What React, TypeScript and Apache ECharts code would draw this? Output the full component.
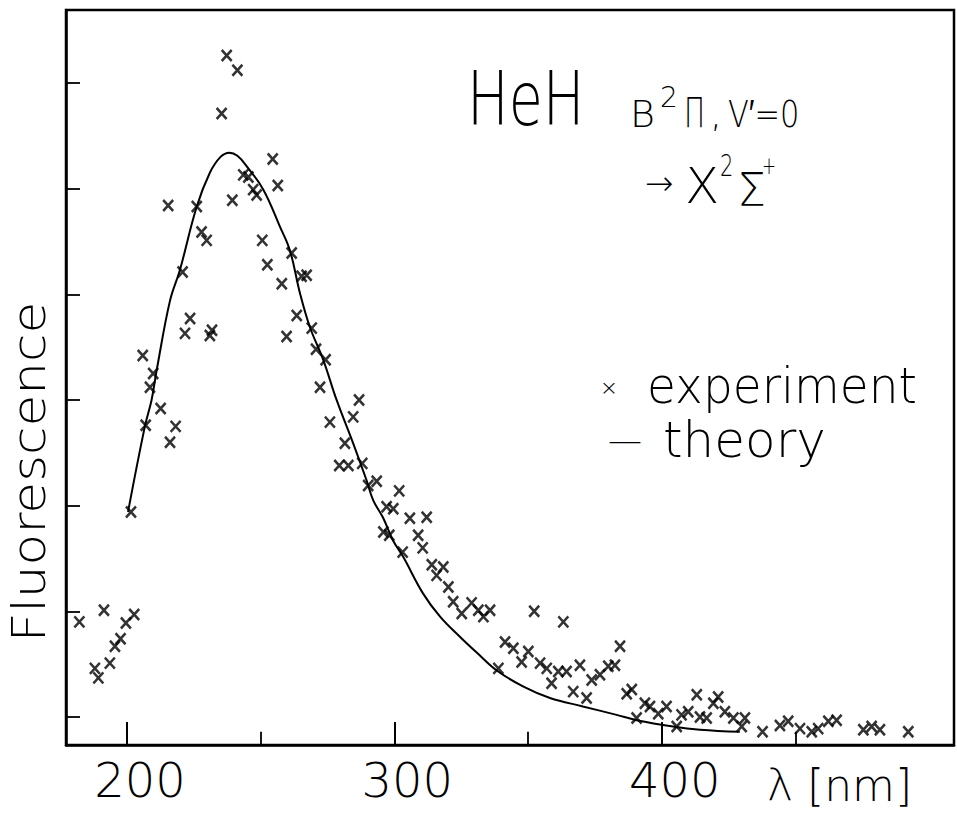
import React, { useEffect, useRef } from "react";
import * as echarts from "echarts";

// ---- axis ranges / ticks ----
const X_MIN = 177.2;
const X_MAX = 509.3;
const Y_MIN = 0.735;
const Y_MAX = 7.69;
const xMajorTicks = [200, 300, 400];
const xMinorTicks = [250, 350, 450];
const xLabelValues = [200, 300, 400];
const yTicks = [1, 2, 3, 4, 5, 6, 7];

// ---- experiment (λ [nm], fluorescence, arbitrary units) ----
const experimentData: number[][] = [
  [182.2, 1.9], [191.4, 2.01], [188.0, 1.46], [189.3, 1.37], [193.6, 1.51], [195.5, 1.67], [197.6, 1.74], [199.6, 1.89], [202.7, 1.97],
  [201.5, 2.94], [207.0, 3.76], [212.6, 3.92], [218.2, 3.75], [216.1, 3.6],
  [215.4, 5.84], [226.1, 5.83], [227.9, 5.59], [229.8, 5.51], [220.8, 5.21], [223.6, 4.77], [221.7, 4.63], [205.9, 4.42], [209.8, 4.25], [208.6, 4.12],
  [237.3, 7.26], [241.3, 7.12], [235.4, 6.71], [254.5, 6.28], [243.5, 6.13], [245.4, 6.11], [256.4, 6.03], [247.2, 5.99], [248.5, 5.94], [239.4, 5.89],
  [250.6, 5.51], [261.6, 5.39], [252.5, 5.28], [257.9, 5.1], [265.3, 5.17], [267.2, 5.18], [263.5, 4.8], [269.1, 4.68], [231.0, 4.61], [231.8, 4.66],
  [259.7, 4.6], [270.7, 4.48], [274.3, 4.38], [272.2, 4.12], [286.8, 4.0], [284.6, 3.84], [275.9, 3.79], [281.5, 3.59], [279.4, 3.38], [282.8, 3.38],
  [288.0, 3.4], [290.2, 3.19], [293.4, 3.23], [301.8, 3.14], [297.1, 2.99], [299.6, 2.97], [305.8, 2.88], [312.1, 2.89], [295.9, 2.75], [298.1, 2.72],
  [308.9, 2.72], [310.6, 2.6], [303.1, 2.56], [314.0, 2.44], [318.3, 2.42], [315.8, 2.34], [320.2, 2.23], [322.0, 2.09], [328.9, 2.08], [325.2, 1.98],
  [331.4, 2.01], [335.8, 2.01], [333.3, 1.95], [352.3, 2.0], [363.2, 1.9], [341.4, 1.71], [344.5, 1.65], [350.1, 1.62], [347.6, 1.52], [354.5, 1.51],
  [357.0, 1.46], [361.3, 1.43], [364.4, 1.43], [369.4, 1.49], [338.9, 1.46], [358.8, 1.32], [366.9, 1.24], [371.9, 1.18], [373.8, 1.35], [376.9, 1.4],
  [380.0, 1.48], [382.5, 1.49], [384.4, 1.67], [386.9, 1.22], [388.8, 1.26], [393.7, 1.13], [390.6, 0.99], [395.6, 1.1], [398.7, 1.03], [401.8, 1.1],
  [405.6, 0.91], [407.4, 1.02], [409.9, 1.05], [413.1, 1.21], [414.3, 1.0], [416.8, 0.99], [419.3, 1.13], [421.1, 1.19], [423.6, 1.05], [426.8, 0.99],
  [431.1, 0.99], [429.9, 0.91], [437.7, 0.86], [444.2, 0.92], [447.3, 0.96], [451.7, 0.89], [456.1, 0.86], [458.5, 0.89], [462.3, 0.96], [465.4, 0.97],
  [475.4, 0.88], [478.5, 0.91], [481.6, 0.88], [492.2, 0.86],
];

// ---- theory curve ----
const theoryData: number[][] = [
  [200.4, 2.94], [206.7, 3.75], [209.2, 4.0], [211.1, 4.28], [216.1, 4.94], [219.8, 5.23], [226.1, 5.83], [231.0, 6.15], [235.0, 6.3],
  [238.3, 6.34], [241.3, 6.31], [244.8, 6.21], [251.0, 5.99], [257.2, 5.64], [261.0, 5.41], [264.7, 5.01], [268.4, 4.69], [273.4, 4.38],
  [278.4, 4.0], [284.6, 3.59], [289.6, 3.24], [292.1, 3.05], [295.7, 2.89], [299.5, 2.67], [303.2, 2.52], [310.7, 2.17], [317.1, 1.95],
  [324.5, 1.76], [330.8, 1.61], [338.3, 1.44], [348.1, 1.29], [358.2, 1.18], [370.5, 1.1], [383.1, 1.02], [390.6, 0.97], [404.2, 0.91],
  [414.3, 0.88], [429.2, 0.86],
];

// tick lengths expressed in y-axis units (inward from the bottom frame)
const MAJOR_TICK_LEN = 0.215;
const MINOR_TICK_LEN = 0.125;

const FONT = "'DejaVu Sans', 'Liberation Sans', sans-serif";
const INK = "#000";

function txt(text: string, x: number, y: number, size: number, extra: any = {}) {
  const { scaleX, rotation, align, ...style } = extra;
  return {
    type: "text",
    x,
    y,
    scaleX: scaleX ?? 1,
    rotation: rotation ?? 0,
    silent: true,
    style: {
      text,
      fill: INK,
      font: `200 ${size}px ${FONT}`,
      textAlign: align ?? "left",
      textVerticalAlign: "middle",
      ...style,
    },
  };
}

export default function App() {
  const ref = useRef<HTMLDivElement>(null);
  useEffect(() => {
    if (!ref.current) return;
    const chart = echarts.init(ref.current, undefined, { renderer: "svg" });
    const tickStyle = { color: INK, width: 1.8 };
    const lineStyle = { color: INK, width: 2.5 };
    const tickSegments = [
      ...xMajorTicks.map((v) => [{ coord: [v, Y_MIN] }, { coord: [v, Y_MIN + MAJOR_TICK_LEN] }]),
      ...xMinorTicks.map((v) => [{ coord: [v, Y_MIN] }, { coord: [v, Y_MIN + MINOR_TICK_LEN] }]),
    ];
    chart.setOption({
      animation: false,
      backgroundColor: "#fff",
      grid: {
        left: 66,
        right: 3,
        top: 10,
        bottom: 71,
        show: true,
        borderColor: INK,
        borderWidth: 2.5,
        backgroundColor: "transparent",
      },
      xAxis: {
        type: "value",
        min: X_MIN,
        max: X_MAX,
        position: "bottom",
        axisLine: { show: true, onZero: false, lineStyle },
        splitLine: { show: false },
        axisTick: { show: true, inside: true, length: 23, customValues: xMajorTicks, lineStyle: tickStyle },
        axisLabel: {
          show: true,
          customValues: xLabelValues,
          margin: 11,
          padding: [0, 0, 0, 26],
          fontFamily: FONT,
          fontSize: 48,
          fontWeight: 200,
          color: INK,
        },
      },
      yAxis: {
        type: "value",
        min: Y_MIN,
        max: Y_MAX,
        axisLine: { show: true, onZero: false, lineStyle },
        splitLine: { show: false },
        axisTick: { show: true, inside: true, length: 14, customValues: yTicks, lineStyle: tickStyle },
        axisLabel: { show: false },
      },
      series: [
        {
          name: "theory",
          type: "line",
          data: theoryData,
          showSymbol: false,
          symbol: "none",
          smooth: 0.4,
          lineStyle: { color: INK, width: 2 },
          z: 2,
          markLine: {
            silent: true,
            symbol: ["none", "none"],
            label: { show: false },
            lineStyle: { color: INK, width: 1.8, type: "solid" },
            data: tickSegments,
          },
        },
        {
          name: "experiment",
          type: "scatter",
          data: experimentData,
          symbol: "path://M0,0L10,11M10,0L0,11",
          symbolSize: [10, 11],
          itemStyle: { color: "rgba(0,0,0,0)", borderColor: INK, borderWidth: 2.6 },
          z: 3,
        },
      ],
      graphic: [
        // y-axis title
        txt("Fluorescence", 29, 472, 47, { rotation: Math.PI / 2, align: "center", scaleX: 1.1 }),
        // x-axis unit
        txt("λ [nm]", 767, 785, 44),
        // title
        txt("HeH", 467, 99, 74, { scaleX: 0.75 }),
        txt("B", 630, 114, 38),
        txt("2", 660, 97, 28),
        txt("Π", 684, 113, 40, { scaleX: 0.7 }),
        txt(",", 710, 114, 38),
        txt("V′=0", 728, 114, 38, { scaleX: 0.8 }),
        txt("→", 645, 183, 34),
        txt("X", 685, 186, 50),
        txt("2", 720, 166, 30, { scaleX: 0.7 }),
        txt("Σ", 737, 190, 46),
        txt("+", 762, 166, 24, { scaleX: 0.7 }),
        // legend
        txt("×", 609, 387, 22, { align: "center" }),
        txt("experiment", 647, 385, 50, { scaleX: 0.94 }),
        txt("—", 625, 440, 34, { align: "center" }),
        txt("theory", 663, 440, 50),
      ],
    });
    return () => chart.dispose();
  }, []);
  return (
    <div
      ref={ref}
      style={{ position: "fixed", left: 0, top: 0, width: 957, height: 816, background: "#fff" }}
    />
  );
}
